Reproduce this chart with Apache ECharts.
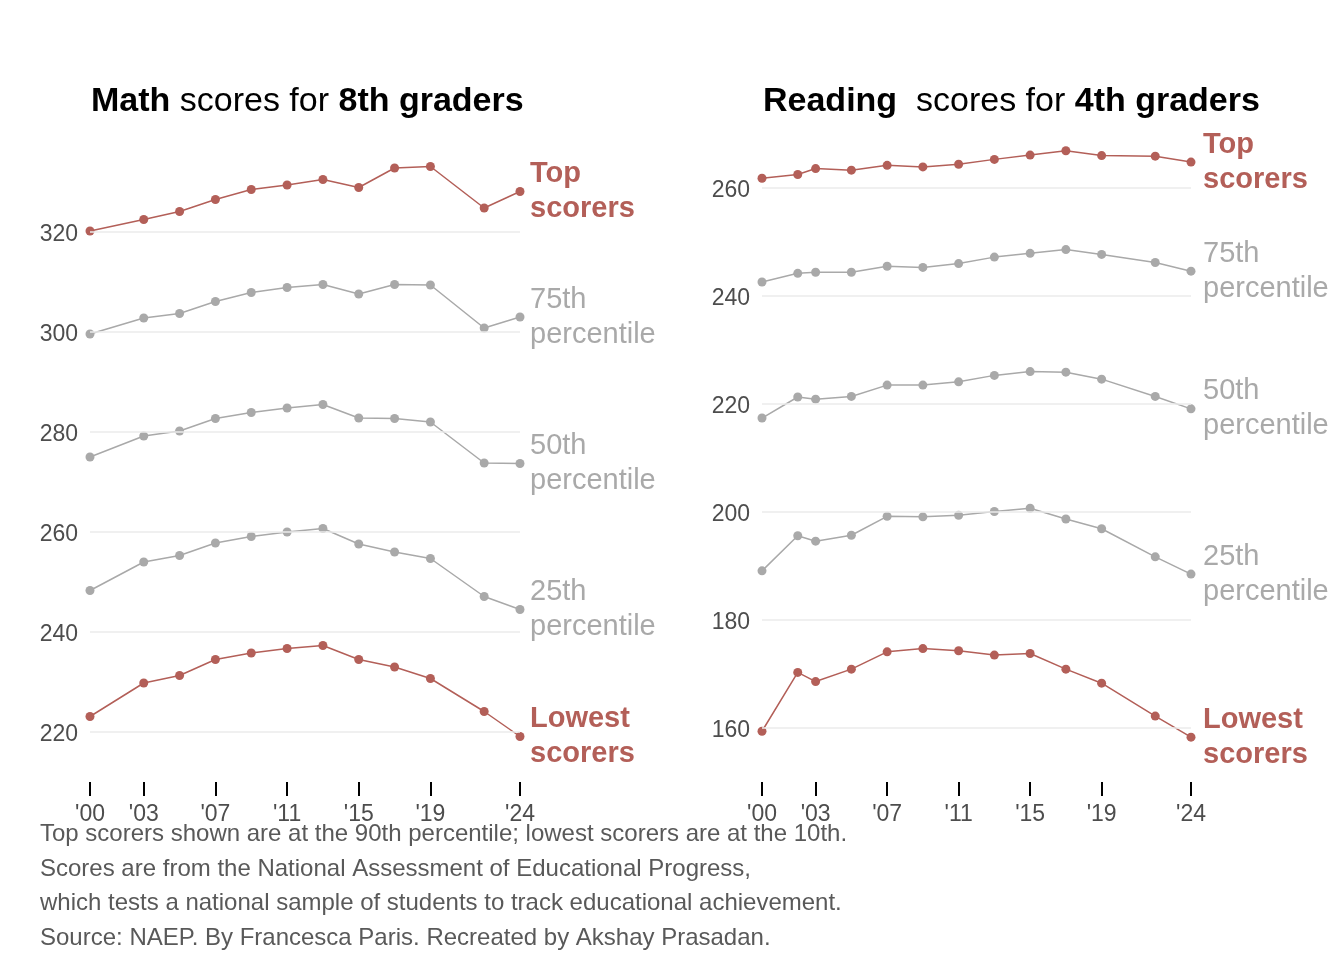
<!DOCTYPE html>
<html>
<head>
<meta charset="utf-8">
<script src="https://cdn.jsdelivr.net/npm/echarts@6/dist/echarts.min.js"></script>
<style>
html,body{margin:0;padding:0;background:#fff;}
#chart{width:1344px;height:960px;}
</style>
</head>
<body>
<div id="chart"></div>
<script>
// ---- Math, 8th graders ----
var mathYears = [2000, 2003, 2005, 2007, 2009, 2011, 2013, 2015, 2017, 2019, 2022, 2024];
var mathTop  = [320.2, 322.5, 324.1, 326.5, 328.5, 329.4, 330.5, 328.9, 332.8, 333.1, 324.8, 328.1];
var math75   = [299.6, 302.8, 303.7, 306.1, 307.9, 308.9, 309.5, 307.6, 309.5, 309.4, 300.8, 303.0];
var math50   = [275.0, 279.2, 280.2, 282.7, 283.9, 284.8, 285.5, 282.8, 282.7, 282.0, 273.8, 273.7];
var math25   = [248.3, 254.0, 255.3, 257.8, 259.1, 260.0, 260.7, 257.6, 256.0, 254.7, 247.1, 244.5];
var mathLow  = [223.1, 229.8, 231.3, 234.5, 235.8, 236.7, 237.3, 234.5, 233.0, 230.7, 224.1, 219.1];
var mathYTicks = [220, 240, 260, 280, 300, 320];

// ---- Reading, 4th graders ----
var readYears = [2000, 2002, 2003, 2005, 2007, 2009, 2011, 2013, 2015, 2017, 2019, 2022, 2024];
var readTop  = [261.8, 262.5, 263.6, 263.3, 264.2, 263.9, 264.4, 265.3, 266.1, 266.9, 266.0, 265.9, 264.8];
var read75   = [242.6, 244.2, 244.4, 244.4, 245.5, 245.3, 246.0, 247.2, 247.9, 248.6, 247.7, 246.2, 244.6];
var read50   = [217.4, 221.3, 220.9, 221.4, 223.5, 223.5, 224.1, 225.3, 226.0, 225.9, 224.6, 221.4, 219.1];
var read25   = [189.1, 195.6, 194.6, 195.7, 199.2, 199.1, 199.4, 200.1, 200.7, 198.7, 196.9, 191.7, 188.5];
var readLow  = [159.4, 170.3, 168.6, 170.9, 174.1, 174.7, 174.3, 173.5, 173.8, 170.9, 168.3, 162.2, 158.3];
var readYTicks = [160, 180, 200, 220, 240, 260];

var xTicks = [2000, 2003, 2007, 2011, 2015, 2019, 2024];

var seriesLabels = ['Top\nscorers', '75th\npercentile', '50th\npercentile', '25th\npercentile', 'Lowest\nscorers'];
var emphasized = [true, false, false, false, true];

var RED = '#B35F58';
var GREY = '#A9A9A9';
var FONT = '"Liberation Sans", Arial, Helvetica, sans-serif';

function zip(xs, ys) { return xs.map(function (x, i) { return [x, ys[i]]; }); }

function makeSeries(idx, years, values, k) {
  var c = emphasized[k] ? RED : GREY;
  return {
    type: 'line',
    xAxisIndex: idx, yAxisIndex: idx,
    data: zip(years, values),
    symbol: 'circle', symbolSize: 9,
    itemStyle: { color: c },
    lineStyle: { color: c, width: 1.5 },
    z: 3,
    silent: true,
    endLabel: {
      show: true,
      formatter: seriesLabels[k],
      color: c,
      fontFamily: FONT,
      fontSize: 29,
      fontWeight: emphasized[k] ? 'bold' : 'normal',
      lineHeight: 35,
      distance: idx === 0 ? 10 : 12
    }
  };
}

function gridSeries(idx, ticks) {
  return {
    type: 'line', xAxisIndex: idx, yAxisIndex: idx, data: [], z: 1, silent: true,
    markLine: {
      silent: true, symbol: ['none', 'none'], label: { show: false },
      lineStyle: { color: '#EBEBEB', width: 1.5, type: 'solid' },
      data: ticks.map(function (t) { return { yAxis: t }; })
    }
  };
}

function xAxisDef(idx) {
  return {
    type: 'value', gridIndex: idx, min: 2000, max: 2024,
    axisLine: { show: false },
    splitLine: { show: false },
    axisTick: { show: true, customValues: xTicks, length: 14, lineStyle: { color: '#000', width: 2 } },
    axisLabel: {
      customValues: xTicks, color: '#4D4D4D', fontFamily: FONT, fontSize: 23, margin: 21,
      formatter: function (v) { return "'" + String(v).slice(2); }
    }
  };
}

function yAxisDef(idx, min, max, ticks) {
  return {
    type: 'value', gridIndex: idx, min: min, max: max,
    axisLine: { show: false }, axisTick: { show: false }, splitLine: { show: false },
    axisLabel: {
      customValues: ticks, margin: 12,
      formatter: function (v) { return '{a|' + v + '}'; },
      rich: { a: { color: '#4D4D4D', fontFamily: FONT, fontSize: 23, padding: [5, 0, 0, 0] } }
    }
  };
}

var mathSets = [mathTop, math75, math50, math25, mathLow];
var readSets = [readTop, read75, read50, read25, readLow];

var series = [gridSeries(0, mathYTicks), gridSeries(1, readYTicks)];
mathSets.forEach(function (s, k) { series.push(makeSeries(0, mathYears, s, k)); });
readSets.forEach(function (s, k) { series.push(makeSeries(1, readYears, s, k)); });

var titleRich = {
  b: { fontFamily: FONT, fontSize: 34, fontWeight: 'bold', color: '#000' },
  r: { fontFamily: FONT, fontSize: 34, fontWeight: 'normal', color: '#000' }
};

var option = {
  animation: false,
  backgroundColor: '#fff',
  title: [
    { text: '{b|Math }{r|scores for }{b|8th graders}', left: 91, top: 85, padding: 0, textStyle: { rich: titleRich } },
    { text: '{b|Reading }{r| scores for }{b|4th graders}', left: 763, top: 85, padding: 0, textStyle: { rich: titleRich } },
    {
      text: 'Top scorers shown are at the 90th percentile; lowest scorers are at the 10th.\nScores are from the National Assessment of Educational Progress,\nwhich tests a national sample of students to track educational achievement.\nSource: NAEP. By Francesca Paris. Recreated by Akshay Prasadan.',
      left: 40, top: 817, padding: 0,
      textStyle: { fontFamily: FONT, fontSize: 24, fontWeight: 'normal', color: '#595959', lineHeight: 34.7 }
    }
  ],
  grid: [
    { left: 90, width: 430, top: 132, height: 650 },
    { left: 762, width: 429, top: 134, height: 648 }
  ],
  xAxis: [xAxisDef(0), xAxisDef(1)],
  yAxis: [yAxisDef(0, 210, 340, mathYTicks), yAxisDef(1, 150, 270, readYTicks)],
  series: series
};

var chart = echarts.init(document.getElementById('chart'), null, { renderer: 'canvas' });
chart.setOption(option);
</script>
</body>
</html>
